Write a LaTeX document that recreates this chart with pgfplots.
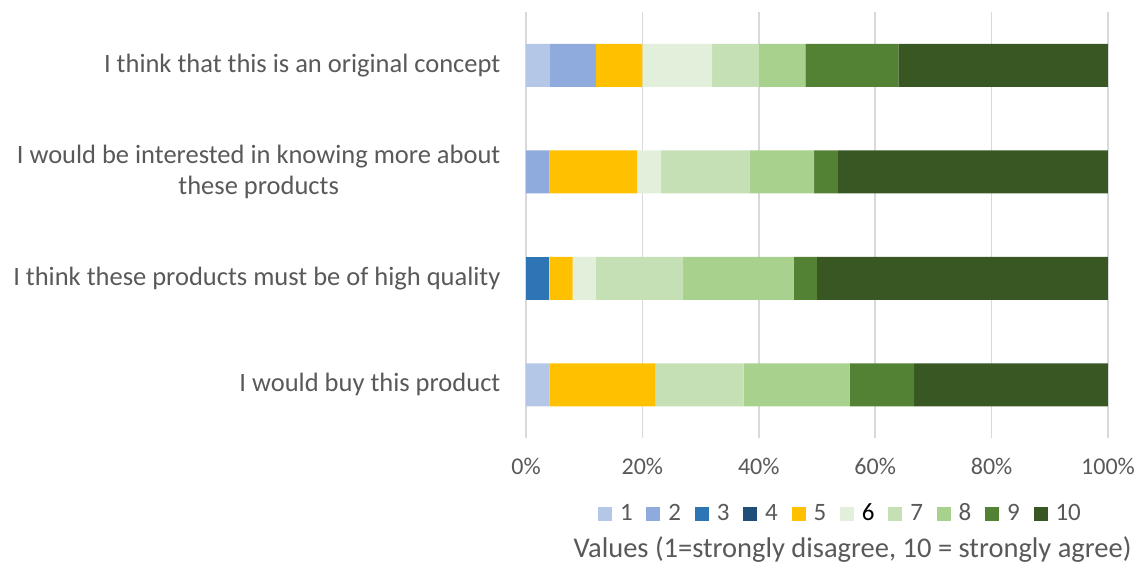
\documentclass[border=0pt]{standalone}
\usepackage{pgfplots}
\pgfplotsset{compat=1.18}
\usepackage{fontspec}
\setmainfont{Carlito}
\definecolor{txt}{HTML}{595959}
\definecolor{gridc}{HTML}{D9D9D9}
\definecolor{c1}{HTML}{B4C7E7}
\definecolor{c2}{HTML}{8FAADC}
\definecolor{c3}{HTML}{2E75B6}
\definecolor{c4}{HTML}{1F4E79}
\definecolor{c5}{HTML}{FFC000}
\definecolor{c6}{HTML}{E2EFDA}
\definecolor{c7}{HTML}{C5E0B4}
\definecolor{c8}{HTML}{A9D18E}
\definecolor{c9}{HTML}{548235}
\definecolor{c10}{HTML}{385723}
\begin{document}
\fontsize{25bp}{30bp}\selectfont
\begin{tikzpicture}
\useasboundingbox (-526bp,-128bp) rectangle (614bp,438bp);
\begin{axis}[
  at={(0,0)}, anchor=south west,
  scale only axis, width=582bp, height=426bp,
  clip=false,
  xbar stacked, bar width=43bp,
  xmin=0, xmax=100, ymin=-0.5, ymax=3.5,
  y dir=reverse,
  ytick={0,1,2,3},
  yticklabels={I think that this is an original concept,
    {I would be interested in knowing more about\\these products},
    I think these products must be of high quality,
    I would buy this product},
  yticklabel style={align=center, text=txt, font=\fontsize{26.5bp}{31bp}\selectfont, xshift=-17bp},
  xtick={0,20,40,60,80,100},
  xticklabel={\pgfmathprintnumber{\tick}\%},
  /pgf/number format/assume math mode=true,
  xticklabel style={text=txt, font=\fontsize{24bp}{29bp}\selectfont, yshift=-12bp},
  xmajorgrids, major grid style={gridc, line width=1.5bp},
  axis line style={draw=none},
  tick style={draw=none},
  legend columns=10,
  legend style={at={(0.5395,-0.179)}, anchor=center, draw=none, fill=none,
    inner sep=0pt, font=\fontsize{25bp}{30bp}\selectfont, text=txt,
    /tikz/every odd column/.append style={column sep=6bp}},
  legend image code/.code={\fill[#1,draw=none] (0bp,-7bp) rectangle (14bp,7bp);},
  every axis plot/.append style={draw=none},
]
\addplot[fill=c1] coordinates {(4,0) (0,1) (0,2) (4,3)};
\addplot[fill=c2] coordinates {(8,0) (4,1) (0,2) (0,3)};
\addplot[fill=c3] coordinates {(0,0) (0,1) (4,2) (0,3)};
\addplot[fill=c4] coordinates {(0,0) (0,1) (0,2) (0,3)};
\addplot[fill=c5] coordinates {(8,0) (15.1,1) (4,2) (18.2,3)};
\addplot[fill=c6] coordinates {(12,0) (4.1,1) (4,2) (0,3)};
\addplot[fill=c7] coordinates {(8,0) (15.3,1) (15,2) (15.2,3)};
\addplot[fill=c8] coordinates {(8,0) (11,1) (19,2) (18.2,3)};
\addplot[fill=c9] coordinates {(16,0) (4.1,1) (4,2) (11.1,3)};
\addplot[fill=c10] coordinates {(36,0) (46.4,1) (50,2) (33.3,3)};
\legend{\makebox[24.4bp][l]{1},\makebox[24.4bp][l]{2},\makebox[24.4bp][l]{3},\makebox[24.4bp][l]{4},\makebox[24.4bp][l]{5},\makebox[24.4bp][l]{\textcolor{black}{6}},\makebox[24.4bp][l]{7},\makebox[24.4bp][l]{8},\makebox[24.4bp][l]{9},\makebox[24.4bp][l]{10}}
\node[text=txt, font=\fontsize{28.5bp}{33bp}\selectfont] at (axis description cs:0.561,-0.262) {Values (1=strongly disagree, 10 = strongly agree)};
\end{axis}
\end{tikzpicture}
\end{document}
